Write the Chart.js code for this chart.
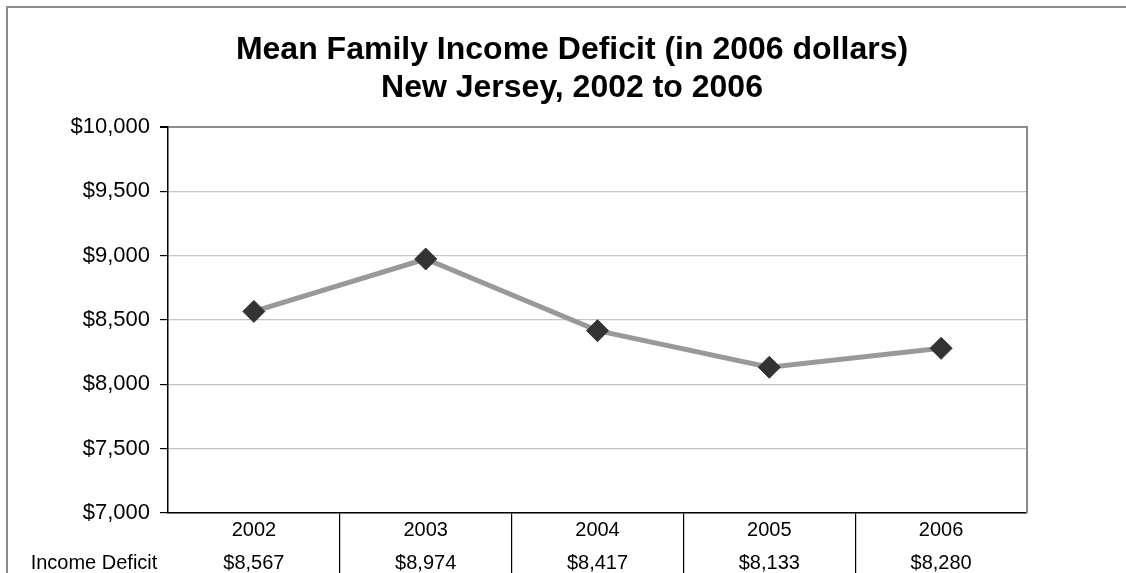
<!DOCTYPE html>
<html>
<head>
<meta charset="utf-8">
<script src="https://cdn.jsdelivr.net/npm/chart.js@4.4.1/dist/chart.umd.min.js"></script>
<style>
  html, body { margin: 0; padding: 0; background: #fff; }
  #wrap { width: 1126px; height: 573px; position: relative; }
</style>
</head>
<body>
<div id="wrap"><canvas id="c" width="1126" height="573"></canvas></div>
<script>
// Chart content
const titleLines = ['Mean Family Income Deficit (in 2006 dollars)', 'New Jersey, 2002 to 2006'];
const years = ['2002', '2003', '2004', '2005', '2006'];
const seriesName = 'Income Deficit';
const incomeDeficit = [8567, 8974, 8417, 8133, 8280];
const yMin = 7000;
const yMax = 10000;
const yStep = 500;

const FONT = '"Liberation Sans", Arial, sans-serif';
const money = v => '$' + v.toLocaleString('en-US');

// Frame, title, plot border and the data table under the x axis
const decorations = {
  id: 'decorations',
  beforeDraw(chart) {
    const ctx = chart.ctx;
    ctx.save();
    ctx.fillStyle = '#fff';
    ctx.fillRect(0, 0, chart.width, chart.height);
    // outer frame (top and left edges)
    ctx.strokeStyle = '#8c8c8c';
    ctx.lineWidth = 2;
    ctx.beginPath();
    ctx.moveTo(7, chart.height);
    ctx.lineTo(7, 7);
    ctx.lineTo(chart.width, 7);
    ctx.stroke();
    // title
    ctx.fillStyle = '#000';
    ctx.font = 'bold 32px ' + FONT;
    ctx.textAlign = 'center';
    ctx.textBaseline = 'middle';
    ctx.fillText(titleLines[0], 572, 50);
    ctx.fillText(titleLines[1], 572, 88);
    ctx.restore();
  },
  afterDraw(chart) {
    const ctx = chart.ctx;
    const a = chart.chartArea;
    const x = chart.scales.x;
    ctx.save();
    // right edge of the plot
    ctx.strokeStyle = '#8c8c8c';
    ctx.lineWidth = 2;
    ctx.beginPath();
    ctx.moveTo(a.right, a.top - 1);
    ctx.lineTo(a.right, a.bottom);
    ctx.stroke();
    // table text
    ctx.fillStyle = '#000';
    ctx.font = '20px ' + FONT;
    ctx.textAlign = 'center';
    ctx.textBaseline = 'middle';
    years.forEach((yr, i) => {
      const px = x.getPixelForValue(i);
      ctx.fillText(yr, px, a.bottom + 17);
      ctx.fillText(money(incomeDeficit[i]), px, a.bottom + 50);
    });
    ctx.fillText(seriesName, 94, a.bottom + 50);
    ctx.restore();
  }
};

new Chart(document.getElementById('c'), {
  type: 'line',
  data: {
    labels: years,
    datasets: [{
      label: seriesName,
      data: incomeDeficit,
      borderColor: '#999999',
      borderWidth: 5,
      pointStyle: 'rectRot',
      pointRadius: 11,
      pointHoverRadius: 11,
      pointBackgroundColor: '#333333',
      pointBorderColor: '#333333',
      pointBorderWidth: 1,
      tension: 0
    }]
  },
  options: {
    responsive: false,
    animation: false,
    events: [],
    layout: { padding: { top: 127, left: 8, right: 99, bottom: 0 } },
    plugins: {
      legend: { display: false },
      title: { display: false },
      tooltip: { enabled: false }
    },
    scales: {
      x: {
        type: 'category',
        offset: true,
        border: { color: '#000', width: 1.5 },
        grid: {
          offset: true,
          drawOnChartArea: false,
          tickLength: 60,
          lineWidth: 1.2,
          color: ctx => (typeof ctx.index === 'number' && ctx.index > 0 && ctx.index < years.length) ? '#000' : 'rgba(0,0,0,0)'
        },
        ticks: { display: false },
        afterFit(scale) { scale.height = 60; }
      },
      y: {
        min: yMin,
        max: yMax,
        border: { color: '#000', width: 1.5 },
        grid: {
          color: ctx => ctx.tick && ctx.tick.value === yMax ? '#8c8c8c' : '#c4c4c4',
          lineWidth: ctx => ctx.tick && ctx.tick.value === yMax ? 2 : 1.2,
          tickColor: '#000',
          tickLength: 8
        },
        ticks: {
          stepSize: yStep,
          padding: 10,
          color: '#000',
          font: { family: FONT, size: 22 },
          callback: v => money(v)
        },
        afterFit(scale) { scale.width = 160; }
      }
    }
  },
  plugins: [decorations]
});
</script>
</body>
</html>
